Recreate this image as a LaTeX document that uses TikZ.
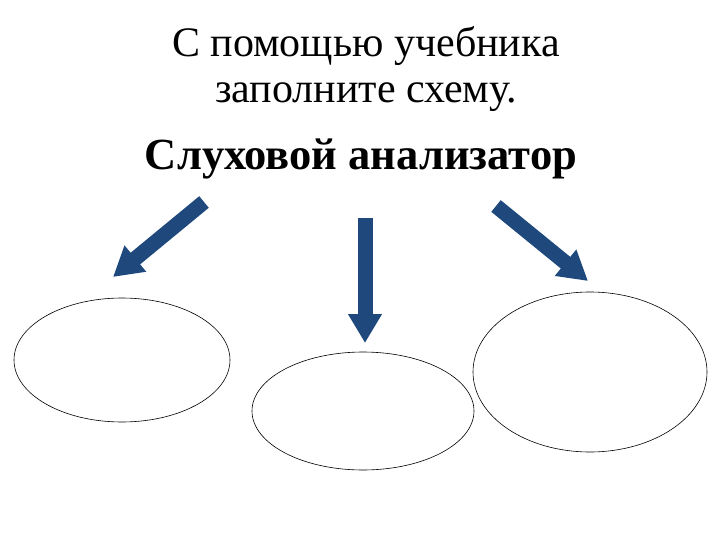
\documentclass[tikz,border=0pt]{standalone}
\usepackage{fontspec}
\setmainfont{Liberation Serif}
\usetikzlibrary{arrows.meta}
\definecolor{arrowblue}{RGB}{31,73,125}
\tikzset{
  blank/.style={draw=black, line width=0.6pt, fill=white},
  blockarrow/.style={draw=arrowblue, line width=15pt, -{Triangle[width=32pt,length=29pt]}},
}
\begin{document}
\begin{tikzpicture}[x=1pt,y=-1pt]
\useasboundingbox (0,0) rectangle (720,540);
\node[font=\fontsize{42}{46}\selectfont, align=center, anchor=base] (title) at (366,103) {С помощью учебника\\заполните схему.};
\node[font=\fontsize{44.5}{50}\selectfont\bfseries, anchor=base] (main) at (361,170) {Слуховой анализатор};
\coordinate (a1) at (204,202);
\coordinate (a2) at (365,218);
\coordinate (a3) at (496,206);
\draw[blank] (122,360) ellipse [x radius=108, y radius=62];
\node (e1) at (122,360) {};
\draw[blank] (363,411) ellipse [x radius=111, y radius=59];
\node (e2) at (363,411) {};
\draw[blank] (590,372) ellipse [x radius=117, y radius=80];
\node (e3) at (590,372) {};
\draw[blockarrow] (a1) -- (113,277);
\draw[blockarrow] (a2) -- (365,343);
\draw[blockarrow] (a3) -- (588,281);
\end{tikzpicture}
\end{document}
